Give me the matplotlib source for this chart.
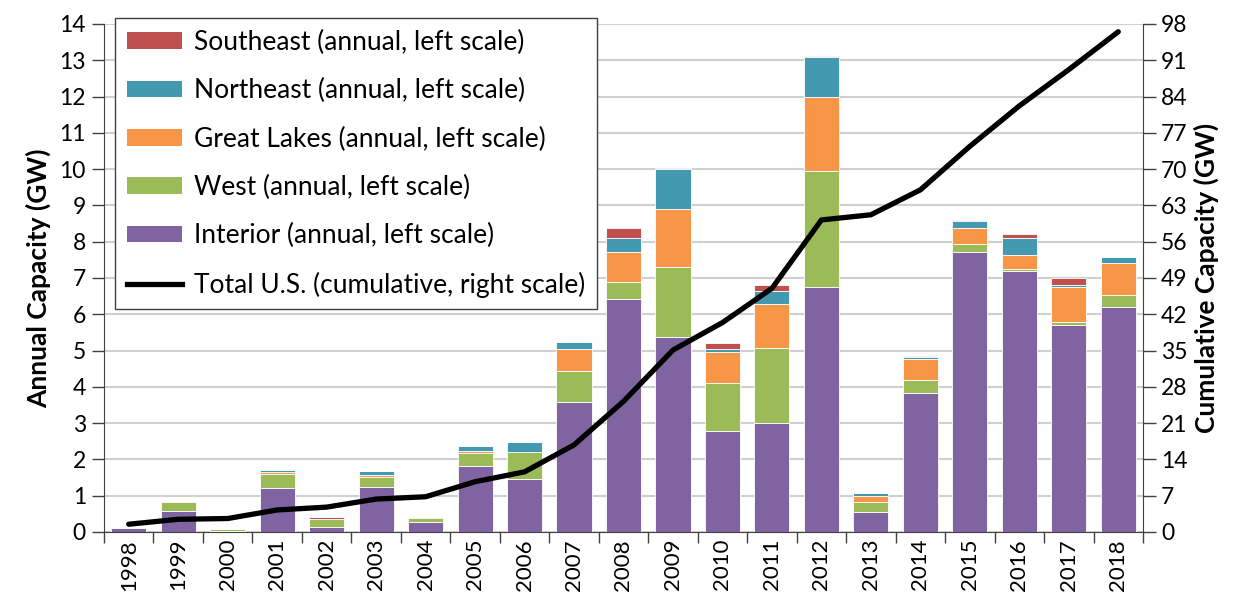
import matplotlib
matplotlib.use("Agg")
import matplotlib.pyplot as plt
import numpy as np
from matplotlib.patches import Patch
from matplotlib.lines import Line2D

plt.rcParams['font.family'] = ['Lato', 'DejaVu Sans']

years = [str(y) for y in range(1998, 2019)]
interior = [0.11, 0.58, 0.02, 1.22, 0.14, 1.25, 0.28, 1.82, 1.46, 3.59, 6.41, 5.38, 2.79, 3.01, 6.76, 0.55, 3.84, 7.72, 7.20, 5.70, 6.19]
west = [0.02, 0.24, 0.05, 0.39, 0.21, 0.27, 0.10, 0.37, 0.75, 0.85, 0.49, 1.91, 1.31, 2.07, 3.20, 0.27, 0.36, 0.23, 0.06, 0.10, 0.33]
great_lakes = [0.02, 0.03, 0.00, 0.03, 0.00, 0.05, 0.02, 0.04, 0.00, 0.59, 0.82, 1.62, 0.85, 1.19, 2.02, 0.18, 0.57, 0.42, 0.38, 0.96, 0.89]
northeast = [0.00, 0.00, 0.00, 0.06, 0.00, 0.11, 0.00, 0.14, 0.26, 0.21, 0.37, 1.10, 0.09, 0.37, 1.11, 0.08, 0.06, 0.20, 0.45, 0.04, 0.17]
southeast = [0.00, 0.00, 0.00, 0.00, 0.07, 0.00, 0.01, 0.00, 0.00, 0.00, 0.28, 0.01, 0.18, 0.18, 0.04, 0.00, 0.03, 0.03, 0.11, 0.21, 0.00]
cumulative = [1.5, 2.45, 2.6, 4.25, 4.8, 6.35, 6.8, 9.7, 11.6, 16.8, 25.2, 35.1, 40.4, 47.0, 60.2, 61.2, 66.0, 74.4, 82.2, 89.2, 96.5]

series = [
    ("Interior (annual, left scale)", interior, "#8064A2"),
    ("West (annual, left scale)", west, "#9BBB59"),
    ("Great Lakes (annual, left scale)", great_lakes, "#F79646"),
    ("Northeast (annual, left scale)", northeast, "#4299B0"),
    ("Southeast (annual, left scale)", southeast, "#C0504D"),
]

fig = plt.figure(figsize=(12.46, 6.01), dpi=100)
ax = fig.add_axes([104/1246, 69/601, (1143-104)/1246, (532-24)/601])
x = np.arange(len(years))
bottom = np.zeros(len(years))
for name, vals, col in series:
    v = np.array(vals)
    ax.bar(x, v, bottom=bottom, width=0.71, color=col, edgecolor='white', linewidth=0.6, zorder=3)
    bottom += v

ax.set_xlim(-0.5, len(years) - 0.5)
ax.set_ylim(0, 14)
ax.set_yticks(range(0, 15))
ax.yaxis.grid(True, color='#D0D0D0', linewidth=1.5, zorder=0)
ax.set_axisbelow(True)
ax.set_xticks(x)
ax.set_xticklabels(years, rotation=90, fontsize=16)
ax.set_xticks(np.arange(-0.5, len(years), 1), minor=True)
ax.tick_params(axis='x', which='major', length=0, pad=5)
ax.tick_params(axis='x', which='minor', length=8, width=1, color='#404040', direction='out')
ax.tick_params(axis='y', labelsize=16.5, length=9, width=1, color='#404040', direction='out', pad=4)
ax.spines['top'].set_visible(False)
ax.spines['left'].set_color('#404040')
ax.spines['bottom'].set_color('#404040')
ax.spines['right'].set_visible(False)
ax.set_ylabel("Annual Capacity (GW)", fontsize=19, fontweight='bold', labelpad=6)

ax2 = ax.twinx()
ax2.plot(x, cumulative, color='black', linewidth=3.8, solid_capstyle='round', zorder=5)
ax2.set_ylim(0, 98)
ax2.set_yticks(range(0, 99, 7))
ax2.tick_params(axis='y', labelsize=16.5, length=9, width=1, color='#404040', direction='out', pad=4)
ax2.spines['top'].set_visible(False)
ax2.spines['left'].set_visible(False)
ax2.spines['bottom'].set_visible(False)
ax2.spines['right'].set_color('#404040')
ax2.set_ylabel("Cumulative Capacity (GW)", fontsize=19, fontweight='bold', labelpad=4)

handles = [Patch(facecolor=col, edgecolor='none', label=name) for name, vals, col in reversed(series)]
handles.append(Line2D([0], [0], color='black', linewidth=3.8, label="Total U.S. (cumulative, right scale)"))
leg = ax2.legend(handles=handles, loc='upper left', bbox_to_anchor=(115/1246, 1 - 18/601),
                 bbox_transform=fig.transFigure, fontsize=19, frameon=True, fancybox=False,
                 framealpha=1, edgecolor='#404040', handlelength=2.1, handleheight=0.6,
                 labelspacing=0.88, borderpad=0.45, handletextpad=0.45, borderaxespad=0)
leg.get_frame().set_linewidth(1.0)
leg.set_zorder(10)

fig.savefig("out.png", dpi=100)
